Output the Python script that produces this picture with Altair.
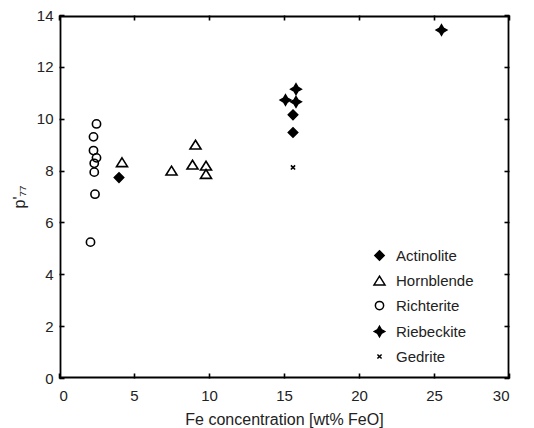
import altair as alt
import pandas as pd

minerals = ["Actinolite", "Hornblende", "Richterite", "Riebeckite", "Gedrite"]

act_x = [4.0, 15.6, 15.6]
act_y = [7.73, 9.47, 10.15]
hbl_x = [4.2, 7.5, 9.1, 8.9, 9.8, 9.8]
hbl_y = [8.32, 8.0, 9.0, 8.23, 8.19, 7.87]
ric_x = [2.5, 2.3, 2.3, 2.5, 2.35, 2.35, 2.4, 2.1]
ric_y = [9.8, 9.3, 8.77, 8.49, 8.28, 7.94, 7.09, 5.24]
rie_x = [15.1, 15.8, 15.8, 25.5]
rie_y = [10.72, 11.14, 10.65, 13.42]
ged_x = [15.6]
ged_y = [8.12]

x_ticks = [0, 5, 10, 15, 20, 25, 30]
y_ticks = [0, 2, 4, 6, 8, 10, 12, 14]

rows = []
for name, xs_, ys_ in [("Actinolite", act_x, act_y), ("Hornblende", hbl_x, hbl_y),
                       ("Richterite", ric_x, ric_y), ("Riebeckite", rie_x, rie_y),
                       ("Gedrite", ged_x, ged_y)]:
    for a, b in zip(xs_, ys_):
        rows.append({"mineral": name, "fe": a, "p": b})
df = pd.DataFrame(rows)

diamond = "M0,-0.85L0.85,0L0,0.85L-0.85,0Z"
triangle = "M0,-0.8L1,0.8L-1,0.8Z"
circle = "M0.75,0A0.75,0.75 0 1,1 -0.75,0A0.75,0.75 0 1,1 0.75,0Z"
star = "M0,-0.95L0.35,-0.35L0.95,0L0.35,0.35L0,0.95L-0.35,0.35L-0.95,0L-0.35,-0.35Z"
xmark = "M-0.38,-0.38L0.38,0.38M-0.38,0.38L0.38,-0.38"

FONT = "Liberation Sans"
xsc = alt.Scale(domain=[0, 30], nice=False)
ysc = alt.Scale(domain=[0, 14], nice=False)

leg = alt.Legend(orient="none", legendX=313, legendY=233, title=None,
                 labelFontSize=15, labelFont=FONT, labelColor="#222",
                 symbolSize=121, symbolStrokeColor="black", symbolStrokeWidth=1.5,
                 rowPadding=9, labelOffset=9, padding=0)

base = alt.Chart(df)

labels_layer = base.mark_point(opacity=0).encode(
    x=alt.X("fe:Q", scale=xsc,
            axis=alt.Axis(orient="bottom", values=x_ticks, ticks=False, domain=False, grid=False,
                          labelPadding=10, labelFontSize=15, labelFont=FONT, labelColor="#222",
                          title="Fe concentration [wt% FeO]", titleFontSize=16, titleFont=FONT,
                          titleFontWeight="normal", titleColor="#222", titlePadding=8)),
    y=alt.Y("p:Q", scale=ysc,
            axis=alt.Axis(orient="left", values=y_ticks, ticks=False, domain=False, grid=False,
                          labelPadding=6, labelFontSize=15, labelFont=FONT, labelColor="#222",
                          title="p'₇₇", titleFontSize=16, titleFont=FONT,
                          titleFontWeight="normal", titleColor="#222", titlePadding=9)),
)

pts = base.mark_point(size=121, strokeWidth=1.6, opacity=1).encode(
    x=alt.X("fe:Q", scale=xsc,
            axis=alt.Axis(orient="bottom", values=x_ticks, offset=-5, tickSize=5, tickWidth=1.6,
                          tickColor="#000000", labels=False, domain=False, grid=False, title=None)),
    y=alt.Y("p:Q", scale=ysc,
            axis=alt.Axis(orient="left", values=y_ticks, offset=-5, tickSize=5, tickWidth=1.6,
                          tickColor="#000000", labels=False, domain=False, grid=False, title=None)),
    shape=alt.Shape("mineral:N", scale=alt.Scale(domain=minerals,
                    range=[diamond, triangle, circle, star, xmark]), legend=leg),
    fill=alt.Fill("mineral:N", scale=alt.Scale(domain=minerals,
                  range=["black", "transparent", "transparent", "black", "transparent"]), legend=leg),
    stroke=alt.Stroke("mineral:N", scale=alt.Scale(domain=minerals,
                      range=["black", "black", "black", "black", "black"]), legend=leg),
)

ticks_tr = base.mark_point(opacity=0).encode(
    x=alt.X("fe:Q", scale=xsc,
            axis=alt.Axis(orient="top", values=x_ticks, offset=-5, tickSize=5, tickWidth=1.6,
                          tickColor="#000000", labels=False, domain=False, grid=False, title=None)),
    y=alt.Y("p:Q", scale=ysc,
            axis=alt.Axis(orient="right", values=y_ticks, offset=-5, tickSize=5, tickWidth=1.6,
                          tickColor="#000000", labels=False, domain=False, grid=False, title=None)),
)

def frame_layer(xorient, yorient):
    return base.mark_point(opacity=0).encode(
        x=alt.X("fe:Q", scale=xsc,
                axis=alt.Axis(orient=xorient, offset=-1, ticks=False, labels=False, domain=True,
                              domainColor="#000000", domainWidth=1.8, grid=False, title=None)),
        y=alt.Y("p:Q", scale=ysc,
                axis=alt.Axis(orient=yorient, offset=-1, ticks=False, labels=False, domain=True,
                              domainColor="#000000", domainWidth=1.8, grid=False, title=None)),
    )

chart = alt.layer(
    labels_layer, pts, ticks_tr, frame_layer("bottom", "left"), frame_layer("top", "right")
).resolve_axis(
    x="independent", y="independent"
).properties(
    width=450, height=363,
    autosize=alt.AutoSizeParams(type="none"),
    padding={"left": 59, "top": 15, "right": 25, "bottom": 50},
).configure(background="white").configure_view(stroke=None)

chart.save("out.html", embed_options={"renderer": "svg", "actions": False})
